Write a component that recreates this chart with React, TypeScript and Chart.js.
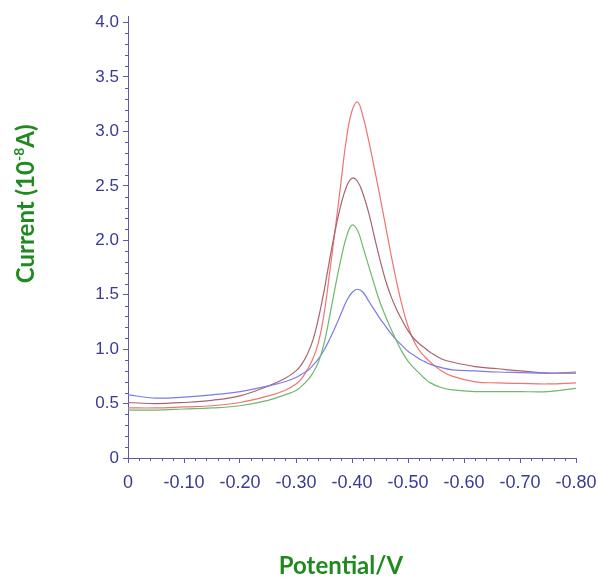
import React, { useEffect, useRef } from 'react';
import { Chart, registerables } from 'chart.js';

Chart.register(...registerables);

// Potential (V) – x values
const potentials = [0, -0.05, -0.10, -0.15, -0.20, -0.25, -0.28, -0.30, -0.31, -0.32, -0.33, -0.34, -0.35, -0.36, -0.37, -0.38, -0.39, -0.40, -0.41, -0.42, -0.43, -0.44, -0.45, -0.46, -0.47, -0.48, -0.49, -0.50, -0.51, -0.52, -0.53, -0.54, -0.56, -0.58, -0.62, -0.66, -0.70, -0.75, -0.80];

// Currents (10^-8 A)
const redCurrent = [0.46, 0.46, 0.47, 0.48, 0.51, 0.57, 0.62, 0.68, 0.73, 0.81, 0.91, 1.06, 1.32, 1.70, 2.10, 2.52, 2.93, 3.19, 3.27, 3.13, 2.91, 2.66, 2.40, 2.13, 1.86, 1.61, 1.39, 1.21, 1.08, 0.99, 0.93, 0.88, 0.80, 0.75, 0.70, 0.69, 0.685, 0.68, 0.69];
const brownCurrent = [0.51, 0.50, 0.51, 0.53, 0.57, 0.66, 0.73, 0.80, 0.86, 0.95, 1.08, 1.28, 1.53, 1.82, 2.09, 2.32, 2.49, 2.57, 2.54, 2.42, 2.25, 2.03, 1.82, 1.63, 1.48, 1.36, 1.26, 1.17, 1.10, 1.05, 1.01, 0.97, 0.91, 0.88, 0.84, 0.82, 0.80, 0.78, 0.78];
const greenCurrent = [0.44, 0.44, 0.45, 0.46, 0.48, 0.53, 0.58, 0.62, 0.66, 0.71, 0.78, 0.88, 1.05, 1.30, 1.57, 1.82, 2.03, 2.14, 2.09, 1.93, 1.76, 1.59, 1.43, 1.30, 1.18, 1.07, 0.97, 0.89, 0.83, 0.78, 0.73, 0.69, 0.645, 0.625, 0.61, 0.61, 0.61, 0.61, 0.64];
const blueCurrent = [0.58, 0.55, 0.56, 0.58, 0.61, 0.66, 0.70, 0.74, 0.77, 0.80, 0.85, 0.91, 0.99, 1.09, 1.20, 1.32, 1.44, 1.52, 1.55, 1.52, 1.44, 1.36, 1.28, 1.21, 1.14, 1.08, 1.03, 0.98, 0.945, 0.91, 0.885, 0.86, 0.83, 0.81, 0.80, 0.79, 0.785, 0.78, 0.79];

const xTitle = 'Potential/V';
const yTitleMain = 'Current (10';
const yTitleSup = '-8';
const yTitleEnd = 'A)';

const AXIS_COLOR = '#5a5aa6';
const LABEL_COLOR = '#3a3a96';
const TITLE_COLOR = '#1f8a1f';
const TICK_FONT = '"Liberation Sans Narrow", "Arial Narrow", "Liberation Sans", Arial, sans-serif';
const TITLE_FONT_FAMILY = 'Lato, "Open Sans", sans-serif';

const minorTicks = {
  id: 'minorTicks',
  afterDraw(chart: any) {
    const { ctx, chartArea, scales } = chart;
    const xs = scales.x;
    const ys = scales.y;
    ctx.save();
    ctx.strokeStyle = AXIS_COLOR;
    ctx.lineWidth = 1;
    ctx.beginPath();
    for (let i = 0; i <= 40; i++) {
      if (i % 5 === 0) continue;
      const py = Math.round(ys.getPixelForValue(i / 10)) + 0.5;
      ctx.moveTo(chartArea.left - 3, py);
      ctx.lineTo(chartArea.left, py);
    }
    for (let i = 0; i <= 40; i++) {
      if (i % 5 === 0) continue;
      const px = Math.round(xs.getPixelForValue(-i * 0.02)) + 0.5;
      ctx.moveTo(px, chartArea.bottom);
      ctx.lineTo(px, chartArea.bottom + 3);
    }
    ctx.stroke();
    ctx.restore();
  },
};

const axisTitles = {
  id: 'axisTitles',
  afterDraw(chart: any) {
    const { ctx, chartArea } = chart;
    ctx.save();
    ctx.fillStyle = TITLE_COLOR;
    const mainFont = `bold 24px ${TITLE_FONT_FAMILY}`;
    const supFont = `bold 14px ${TITLE_FONT_FAMILY}`;
    ctx.font = mainFont;
    ctx.textAlign = 'center';
    ctx.textBaseline = 'middle';
    const cx = (chartArea.left + chartArea.right) / 2 - 11;
    ctx.fillText(xTitle, cx, 566);

    // y title with superscript
    ctx.font = mainFont;
    const wa = ctx.measureText(yTitleMain).width;
    const wb = ctx.measureText(yTitleEnd).width;
    ctx.font = supFont;
    const ws = ctx.measureText(yTitleSup).width;
    const total = wa + ws + wb;
    const cy = chartArea.top + (chartArea.bottom - chartArea.top) * 0.425;
    ctx.translate(25, cy);
    ctx.rotate(-Math.PI / 2);
    ctx.textAlign = 'left';
    ctx.textBaseline = 'alphabetic';
    let x = -total / 2;
    ctx.font = mainFont;
    ctx.fillText(yTitleMain, x, 9);
    x += wa;
    ctx.font = supFont;
    ctx.fillText(yTitleSup, x, -1);
    x += ws;
    ctx.font = mainFont;
    ctx.fillText(yTitleEnd, x, 9);
    ctx.restore();
  },
};

function makeSeries(data: number[], color: string) {
  return {
    data: potentials.map((p, i) => ({ x: p, y: data[i] })),
    borderColor: color,
    backgroundColor: color,
    borderWidth: 1.2,
    pointRadius: 0,
    tension: 0.4,
    fill: false,
  };
}

export default function App() {
  const canvasRef = useRef<HTMLCanvasElement | null>(null);

  useEffect(() => {
    if (!canvasRef.current) return;
    const chart = new Chart(canvasRef.current, {
      type: 'line',
      data: {
        datasets: [
          makeSeries(greenCurrent, '#6db86d'),
          makeSeries(blueCurrent, '#7c7ce8'),
          makeSeries(brownCurrent, '#a8646e'),
          makeSeries(redCurrent, '#ee7474'),
        ],
      },
      options: {
        responsive: false,
        animation: false,
        layout: { padding: { left: 0, right: 22, top: 16, bottom: 0 } },
        plugins: { legend: { display: false }, tooltip: { enabled: false }, title: { display: false } },
        scales: {
          x: {
            type: 'linear',
            reverse: true,
            min: -0.8,
            max: 0,
            border: { display: true, color: AXIS_COLOR, width: 1 },
            grid: { drawOnChartArea: false, drawTicks: true, tickLength: 5, color: AXIS_COLOR },
            ticks: {
              stepSize: 0.1,
              color: LABEL_COLOR,
              padding: 9,
              maxRotation: 0,
              autoSkip: false,
              font: { family: TICK_FONT, size: 18 },
              callback: (v: any) => (Math.abs(v) < 1e-9 ? '0' : Number(v).toFixed(2)),
            },
            afterFit: (scale: any) => {
              scale.height = 119;
              scale.paddingLeft = 0;
              scale.paddingRight = 0;
            },
          },
          y: {
            type: 'linear',
            min: 0,
            max: 4.06,
            border: { display: true, color: AXIS_COLOR, width: 1 },
            grid: { drawOnChartArea: false, drawTicks: true, tickLength: 5, color: AXIS_COLOR },
            ticks: {
              stepSize: 0.5,
              includeBounds: false,
              color: LABEL_COLOR,
              padding: 4,
              font: { family: TICK_FONT, size: 17 },
              callback: (v: any) => (Math.abs(v) < 1e-9 ? '0' : Number(v).toFixed(1)),
            },
            afterFit: (scale: any) => {
              scale.width = 128;
              scale.paddingTop = 0;
              scale.paddingBottom = 0;
            },
          },
        },
      },
      plugins: [minorTicks, axisTitles],
    });
    return () => chart.destroy();
  }, []);

  return (
    <div style={{ position: 'absolute', left: 0, top: 0, width: 598, height: 577, background: '#fff' }}>
      <canvas ref={canvasRef} width={598} height={577} style={{ display: 'block' }} />
    </div>
  );
}
